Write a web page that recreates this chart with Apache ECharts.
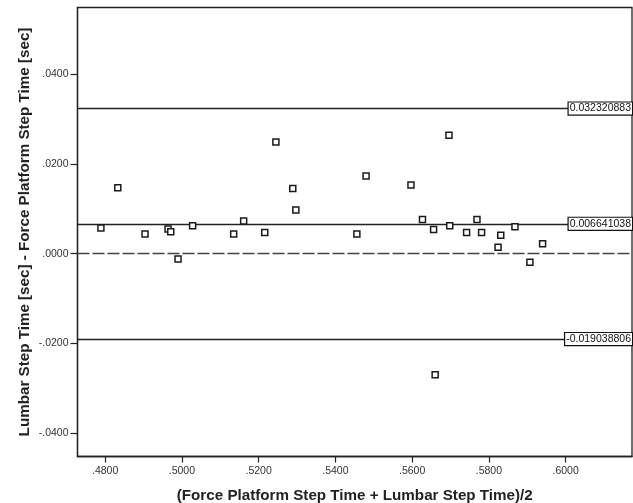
<!DOCTYPE html>
<html>
<head>
<meta charset="utf-8">
<script src="https://cdn.jsdelivr.net/npm/echarts@6/dist/echarts.min.js"></script>
<style>html,body{margin:0;padding:0;background:#fff}#c{width:633px;height:503px}</style>
</head>
<body>
<div id="c"></div>
<script>
// Bland-Altman data
const meanX = [0.4789, 0.4833, 0.4904, 0.4964, 0.4971, 0.4990, 0.5028, 0.5135, 0.5161, 0.5216, 0.5245, 0.5289, 0.5297, 0.5456, 0.5480, 0.5597, 0.5627, 0.5656, 0.5660, 0.5696, 0.5698, 0.5742, 0.5769, 0.5781, 0.5824, 0.5831, 0.5868, 0.5907, 0.5940];
const diffY = [0.0057, 0.0147, 0.0044, 0.0055, 0.0049, -0.0012, 0.0062, 0.0044, 0.0073, 0.0047, 0.0249, 0.0145, 0.0097, 0.0044, 0.0173, 0.0153, 0.0076, 0.0054, -0.0270, 0.0264, 0.0062, 0.0047, 0.0076, 0.0047, 0.0014, 0.0041, 0.0060, -0.0019, 0.0022];
const upperLoA = 0.032320883;
const meanBias = 0.006641038;
const lowerLoA = -0.019038806;
const refZero = 0;
const refLabels = ['0.032320883', '0.006641038', '-0.019038806'];
const xTicks = [0.48, 0.50, 0.52, 0.54, 0.56, 0.58, 0.60];
const yTicks = [-0.04, -0.02, 0.00, 0.02, 0.04];
const xTitle = '(Force Platform Step Time + Lumbar Step Time)/2';
const yTitle = 'Lumbar Step Time [sec] - Force Platform Step Time [sec]';

const fmt = v => {
  const s = Number(v).toFixed(4);
  return s.replace('0.', '.');
};
const FONT = 'Liberation Sans, Arial, sans-serif';

const chart = echarts.init(document.getElementById('c'), null, {renderer: 'canvas'});
const boxLabel = text => ({
  show: true,
  position: 'insideEnd',
  distance: 0,
  formatter: text,
  fontFamily: FONT,
  fontSize: 10.5,
  color: '#111',
  backgroundColor: '#fff',
  borderColor: '#111',
  borderWidth: 1.2,
  padding: [1, 1, 0, 1],
  verticalAlign: 'middle'
});
chart.setOption({
  animation: false,
  backgroundColor: '#fff',
  grid: {left: 77.5, top: 7.5, right: 1, bottom: 46.5, outerBoundsMode: 'none', containLabel: false, show: true, borderColor: '#222', borderWidth: 1.3, backgroundColor: 'transparent'},
  xAxis: {
    type: 'value', min: 0.4728, max: 0.6173,
    name: xTitle, nameLocation: 'middle', nameGap: 32, nameMoveOverlap: false,
    nameTextStyle: {fontFamily: FONT, fontSize: 15.2, fontWeight: 'bold', color: '#222'},
    axisLine: {show: true, onZero: false, lineStyle: {color: '#222', width: 1.3}},
    axisTick: {show: true, length: 6, customValues: xTicks, lineStyle: {color: '#222', width: 1.2}},
    axisLabel: {customValues: xTicks, formatter: fmt, fontFamily: FONT, fontSize: 10.5, color: '#333', margin: 9},
    splitLine: {show: false}
  },
  yAxis: {
    type: 'value', min: -0.0452, max: 0.05485,
    name: yTitle, nameLocation: 'middle', nameGap: 45, nameRotate: 90, nameMoveOverlap: false,
    nameTextStyle: {fontFamily: FONT, fontSize: 15.2, fontWeight: 'bold', color: '#222'},
    axisLine: {show: true, onZero: false, lineStyle: {color: '#222', width: 1.3}},
    axisTick: {show: true, length: 7, customValues: yTicks, lineStyle: {color: '#222', width: 1.2}},
    axisLabel: {customValues: yTicks, formatter: fmt, fontFamily: FONT, fontSize: 10.5, color: '#333', margin: 9},
    splitLine: {show: false}
  },
  series: [{
    type: 'scatter',
    data: meanX.map((x, i) => [x, diffY[i]]),
    symbol: 'rect',
    symbolSize: 6,
    itemStyle: {color: '#fff', borderColor: '#1a1a1a', borderWidth: 1.5, opacity: 1},
    z: 5,
    markLine: {
      silent: true,
      precision: 12,
      symbol: ['none', 'none'],
      animation: false,
      data: [
        {yAxis: refZero, lineStyle: {color: '#444', width: 1.3, type: [12, 3]}, label: {show: false}},
        {yAxis: upperLoA, lineStyle: {color: '#222', width: 1.4, type: 'solid'}, label: boxLabel(refLabels[0])},
        {yAxis: meanBias, lineStyle: {color: '#222', width: 1.4, type: 'solid'}, label: boxLabel(refLabels[1])},
        {yAxis: lowerLoA, lineStyle: {color: '#222', width: 1.4, type: 'solid'}, label: boxLabel(refLabels[2])}
      ]
    }
  }]
});
</script>
</body>
</html>
